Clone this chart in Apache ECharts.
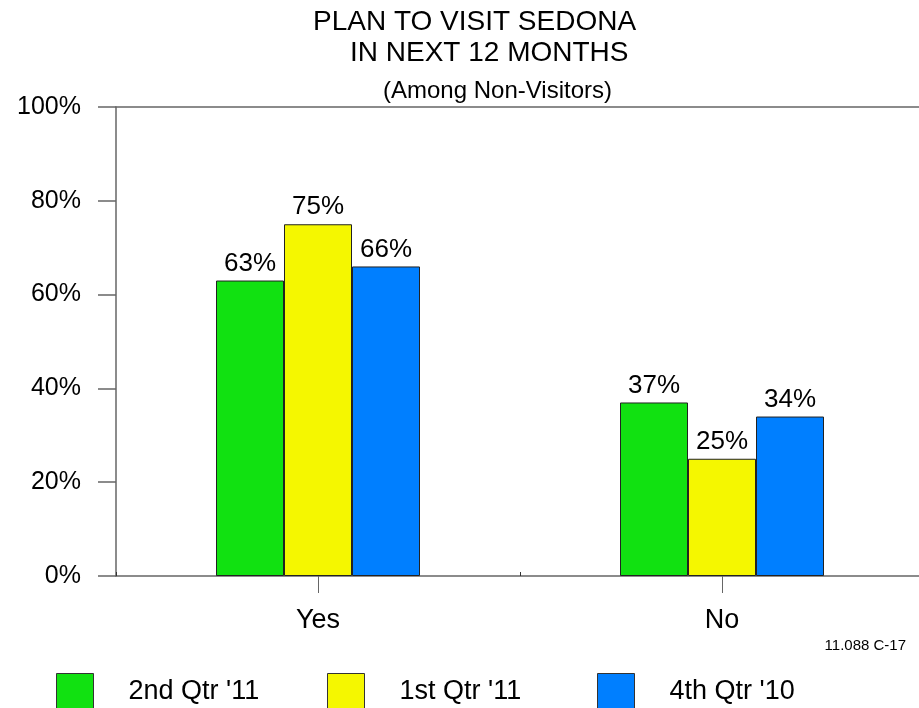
<!DOCTYPE html>
<html>
<head>
<meta charset="utf-8">
<script src="https://cdn.jsdelivr.net/npm/echarts@6/dist/echarts.min.js"></script>
<style>
html,body{margin:0;padding:0;background:#fff;overflow:hidden;width:919px;height:708px;}
#chart{width:924px;height:708px;}
</style>
</head>
<body>
<div id="chart"></div>
<script>
var categories = ['Yes', 'No'];
var seriesNames = ["2nd Qtr '11", "1st Qtr '11", "4th Qtr '10"];
var q2_11 = [63, 37];
var q1_11 = [75, 25];
var q4_10 = [66, 34];
var yTicks = [0, 20, 40, 60, 80, 100];
var colors = ['#11e111', '#f5f700', '#007fff'];
var FONT = "'Liberation Sans', Arial, sans-serif";

var chart = echarts.init(document.getElementById('chart'), null, {renderer: 'canvas'});

function mkSeries(name, data, color) {
  return {
    name: name, type: 'bar', data: data, barWidth: 68, barGap: '0%',
    xAxisIndex: 0, yAxisIndex: 0,
    itemStyle: {color: color, borderColor: '#222', borderWidth: 1},
    label: {show: true, position: 'top', distance: 4, formatter: '{c}%',
      fontSize: 26, fontFamily: FONT, color: '#000'},
    animation: false
  };
}
function mkLegend(name, left) {
  return {
    data: [name], left: left, top: 673, itemWidth: 37, itemHeight: 37,
    icon: 'rect', padding: 0,
    itemStyle: {borderColor: '#333', borderWidth: 1},
    textStyle: {fontSize: 27, fontFamily: FONT, color: '#000', padding: [0, 0, 0, 30]}
  };
}

var option = {
  backgroundColor: '#fff',
  animation: false,
  title: [
    {text: 'PLAN TO VISIT SEDONA', left: 313, top: 8, padding: 0,
     textStyle: {fontSize: 28, lineHeight: 28, fontWeight: 'normal', fontFamily: FONT, color: '#000'}},
    {text: 'IN NEXT 12 MONTHS', left: 350, top: 39, padding: 0,
     textStyle: {fontSize: 28, lineHeight: 28, fontWeight: 'normal', fontFamily: FONT, color: '#000'}},
    {text: '(Among Non-Visitors)', left: 383, top: 79, padding: 0,
     textStyle: {fontSize: 24, lineHeight: 24, fontWeight: 'normal', fontFamily: FONT, color: '#000'}}
  ],
  legend: [mkLegend(seriesNames[0], 56), mkLegend(seriesNames[1], 327), mkLegend(seriesNames[2], 597)],
  grid: {left: 116, right: 0, top: 107, bottom: 132, containLabel: false},
  xAxis: [
    {type: 'category', data: categories, position: 'bottom',
     axisLine: {show: true, lineStyle: {color: '#666', width: 1.5}},
     axisTick: {show: true, alignWithLabel: true, length: 17, lineStyle: {color: '#666', width: 1}},
     axisLabel: {margin: 31, fontSize: 27, fontFamily: FONT, color: '#000'},
     splitLine: {show: false}},
    {type: 'category', data: categories, position: 'top',
     axisLine: {show: true, lineStyle: {color: '#666', width: 1.5}},
     axisTick: {show: false}, axisLabel: {show: false}, splitLine: {show: false}},
    {type: 'category', data: categories, position: 'bottom',
     axisLine: {show: false},
     axisTick: {show: true, inside: true, length: 4, lineStyle: {color: '#333', width: 1}},
     axisLabel: {show: false}, splitLine: {show: false}}
  ],
  yAxis: {
    type: 'value', min: yTicks[0], max: yTicks[yTicks.length - 1], interval: yTicks[1] - yTicks[0],
    axisLine: {show: true, lineStyle: {color: '#666', width: 1.5}},
    axisTick: {show: true, length: 18, lineStyle: {color: '#666', width: 1.5}},
    axisLabel: {margin: 35, fontSize: 25, fontFamily: FONT, color: '#000', formatter: '{value}%'},
    splitLine: {show: false}
  },
  graphic: [
    {type: 'text', right: 18, top: 638,
     style: {text: '11.088 C-17', fontSize: 15, fontFamily: FONT, fill: '#000'}}
  ],
  series: [
    mkSeries(seriesNames[0], q2_11, colors[0]),
    mkSeries(seriesNames[1], q1_11, colors[1]),
    mkSeries(seriesNames[2], q4_10, colors[2])
  ]
};
chart.setOption(option);
</script>
</body>
</html>
